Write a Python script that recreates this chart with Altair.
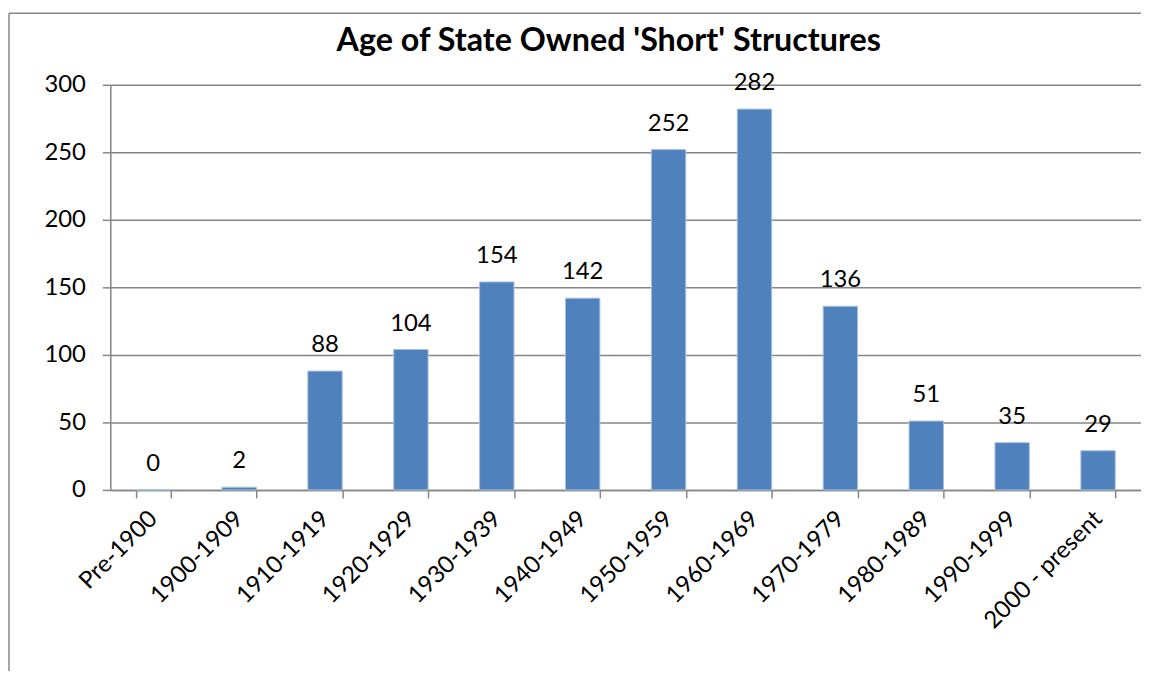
import altair as alt
import pandas as pd

categories = ["Pre-1900", "1900-1909", "1910-1919", "1920-1929", "1930-1939", "1940-1949",
              "1950-1959", "1960-1969", "1970-1979", "1980-1989", "1990-1999", "2000 - present"]
counts = [0, 2, 88, 104, 154, 142, 252, 282, 136, 51, 35, 29]
y_ticks = [0, 50, 100, 150, 200, 250, 300]
title_text = "Age of State Owned 'Short' Structures"

FONT = "Lato"
GRAY = "#868686"
BLUE = "#4F81BD"

df = pd.DataFrame({"period": categories, "count": counts})

x_enc = alt.X(
    "period:N", sort=categories, title=None,
    scale=alt.Scale(paddingInner=0.6, paddingOuter=0.3),
    axis=alt.Axis(labelAngle=315, labelAlign="right", labelBaseline="middle",
                  labelFontSize=24, labelFont=FONT, labelColor="black",
                  tickBand="extent", tickSize=8, tickColor=GRAY, tickWidth=1.5,
                  domainColor=GRAY, domainWidth=1.5, labelPadding=17,
                  grid=False, labelLimit=0, labelOverlap=False),
)
y_enc = alt.Y(
    "count:Q", title=None,
    scale=alt.Scale(domain=[0, 300], nice=False),
    axis=alt.Axis(values=y_ticks, labelFontSize=24, labelFont=FONT, labelColor="black",
                  tickSize=8, tickColor=GRAY, tickWidth=1.5, domainColor=GRAY, domainWidth=1.5,
                  labelPadding=17, grid=True, gridColor=GRAY, gridWidth=1.5),
)

base = alt.Chart(df)
bars = base.mark_bar(color=BLUE, stroke="#A7C0E0", strokeWidth=1).encode(x=x_enc, y=y_enc)
labels = base.mark_text(dy=-19, baseline="alphabetic", fontSize=24, font=FONT, color="black").encode(
    x=alt.X("period:N", sort=categories), y="count:Q", text="count:Q")

single = pd.DataFrame({"title": [title_text]})
title_mark = alt.Chart(single).mark_text(
    align="center", baseline="alphabetic", fontSize=32.5, font=FONT, fontWeight="bold", color="black"
).encode(x=alt.value(502), y=alt.value(-34), text="title:N")

left_edge = alt.Chart(single).mark_rule(color=GRAY, strokeWidth=1.5).encode(
    x=alt.value(-102), y=alt.value(-72), y2=alt.value(620))
top_edge = alt.Chart(single).mark_rule(color=GRAY, strokeWidth=1.5).encode(
    x=alt.value(-102), x2=alt.value(1100), y=alt.value(-72))

chart = alt.layer(left_edge, top_edge, title_mark, bars, labels).properties(
    width=1038, height=408,
    padding={"left": 103, "top": 75, "right": 0, "bottom": 180},
    autosize=alt.AutoSizeParams(type="none"),
).configure_view(stroke=None).configure(background="white")

chart.save("out.html", embed_options={"renderer": "svg", "actions": False})
